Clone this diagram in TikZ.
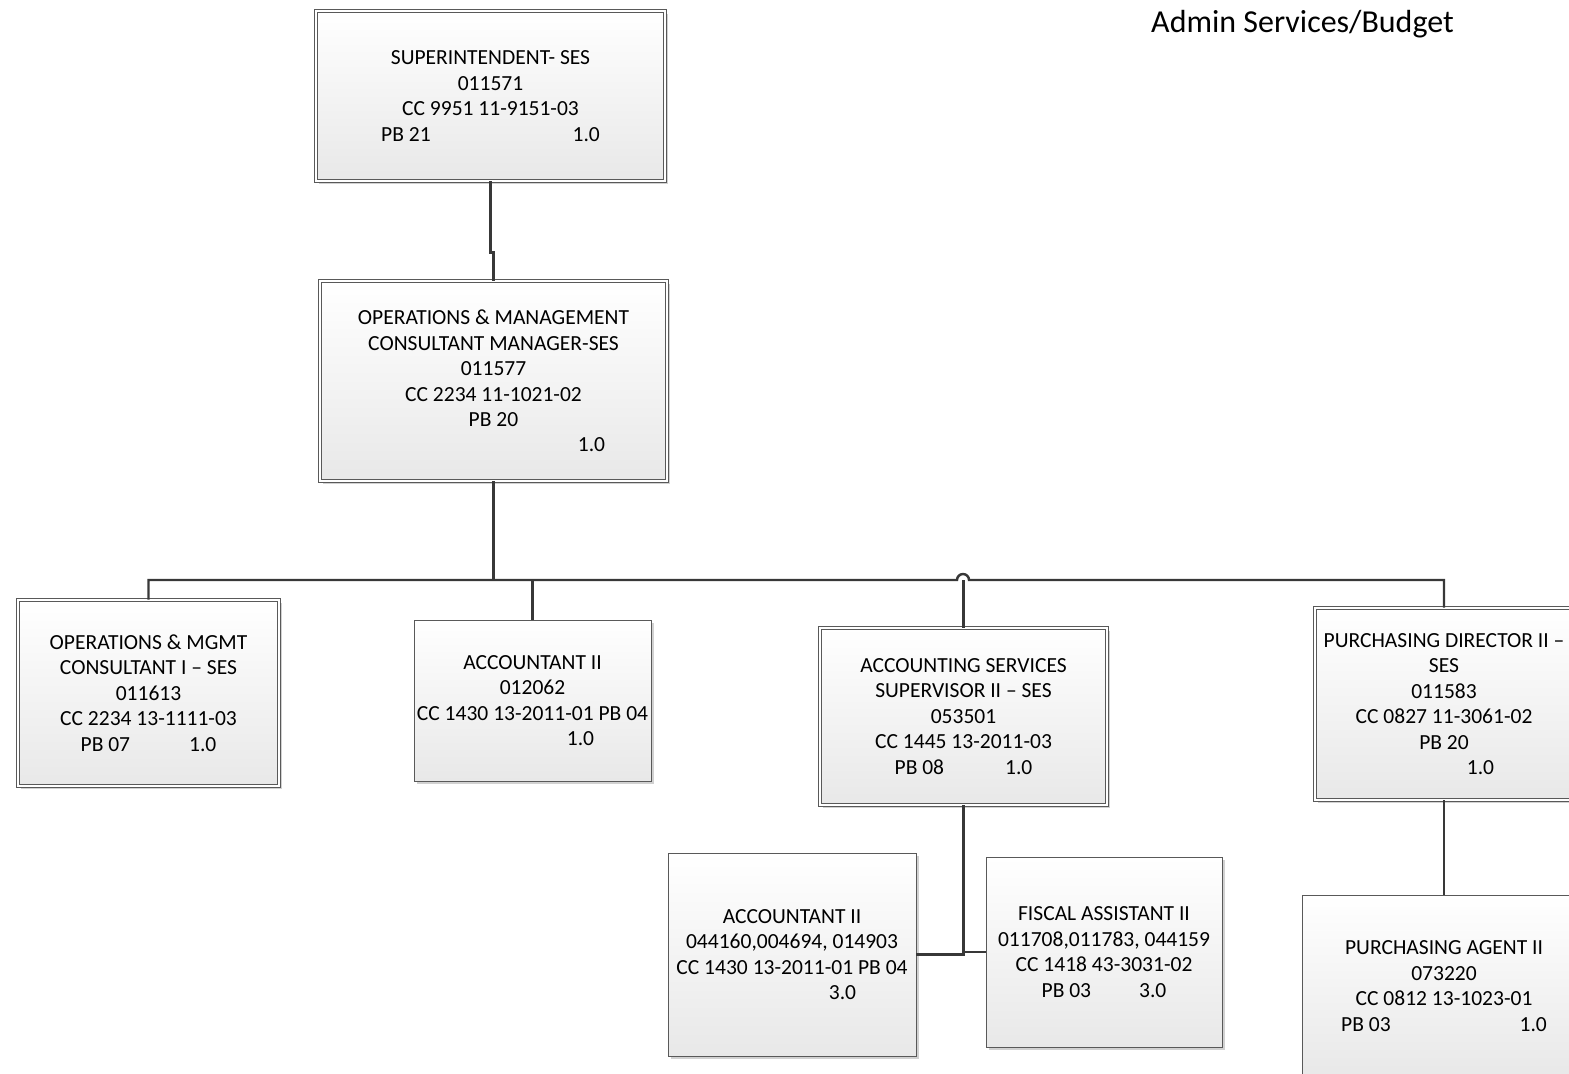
\documentclass[tikz,border=0pt]{standalone}
\usepackage{fontspec}
\setmainfont{Carlito}
\usetikzlibrary{shadows}
\begin{document}
\begin{tikzpicture}[x=0.02cm,y=-0.02cm,
	box/.style={draw=black!65,line width=0.5pt,top color=white,bottom color=black!9,
		drop shadow={shadow xshift=0.06cm,shadow yshift=-0.06cm,fill=black!18,opacity=1},
		align=center,inner sep=0pt,font=\fontsize{12.25}{14.5}\selectfont},
	ses/.style={box,double=white,double distance=1.6pt},
	link/.style={draw=black!78,line width=1.4pt}]
	\useasboundingbox (0,0) rectangle (1569,1073);
	\clip (0,0) rectangle (1569,1073);
	\node[anchor=north east,font=\fontsize{18.2}{22}\selectfont] (title) at (1460,4) {Admin Services/Budget};
	\node[ses,minimum width=6.98cm,minimum height=3.4cm] (sup) at (490.5,96) {SUPERINTENDENT- SES\\011571\\CC 9951 11-9151-03\\PB 21\hspace{2.84cm}1.0};
	\node[ses,minimum width=6.94cm,minimum height=4cm] (ops) at (493.5,381) {OPERATIONS \& MANAGEMENT\\CONSULTANT MANAGER-SES\\011577\\CC 2234 11-1021-02\\PB 20\\\hspace{3.92cm}1.0};
	\node[ses,minimum width=5.22cm,minimum height=3.72cm] (cons) at (148.5,693) {OPERATIONS \& MGMT\\CONSULTANT I – SES\\011613\\CC 2234 13-1111-03\\PB 07\hspace{1.18cm}1.0};
	\node[box,minimum width=4.74cm,minimum height=3.22cm] (acct) at (532.5,700.5) {ACCOUNTANT II\\012062\\CC 1430 13-2011-01 PB 04\\\hspace{1.92cm}1.0};
	\node[ses,minimum width=5.74cm,minimum height=3.54cm] (super) at (963.5,716.5) {ACCOUNTING SERVICES\\SUPERVISOR II – SES\\053501\\CC 1445 13-2011-03\\PB 08\hspace{1.22cm}1.0};
	\node[ses,minimum width=5.16cm,minimum height=3.84cm] (purdir) at (1444,704) {PURCHASING DIRECTOR II –\\SES\\011583\\CC 0827 11-3061-02\\PB 20\\\hspace{1.46cm}1.0};
	\node[box,minimum width=4.96cm,minimum height=4.06cm] (accts) at (792,954.5) {ACCOUNTANT II\\044160,004694, 014903\\CC 1430 13-2011-01 PB 04\\\hspace{2.02cm}3.0};
	\node[box,minimum width=4.72cm,minimum height=3.8cm] (fiscal) at (1104,952) {FISCAL ASSISTANT II\\011708,011783, 044159\\CC 1418 43-3031-02\\PB 03\hspace{0.96cm}3.0};
	\node[box,minimum width=5.68cm,minimum height=3.64cm] (agent) at (1444,986) {PURCHASING AGENT II\\073220\\CC 0812 13-1023-01\\PB 03\hspace{2.58cm}1.0};
	\coordinate (bus) at (493.5,580);
	\draw[link] (sup.south) -- ++(0,71) -| (ops.north);
	\draw[link] (ops.south) -- (bus);
	\draw[link] (cons.north) |- (957,580) arc[start angle=180,end angle=360,radius=6] -| (purdir.north);
	\draw[link] (acct.north) -- (acct.north |- bus);
	\draw[link] (super.north) -- (super.north |- bus);
	\draw[link] (super.south) |- (accts.east);
	\draw[link] (super.south) |- (fiscal.west);
	\draw[link] (purdir.south) -- (agent.north);
\end{tikzpicture}
\end{document}
